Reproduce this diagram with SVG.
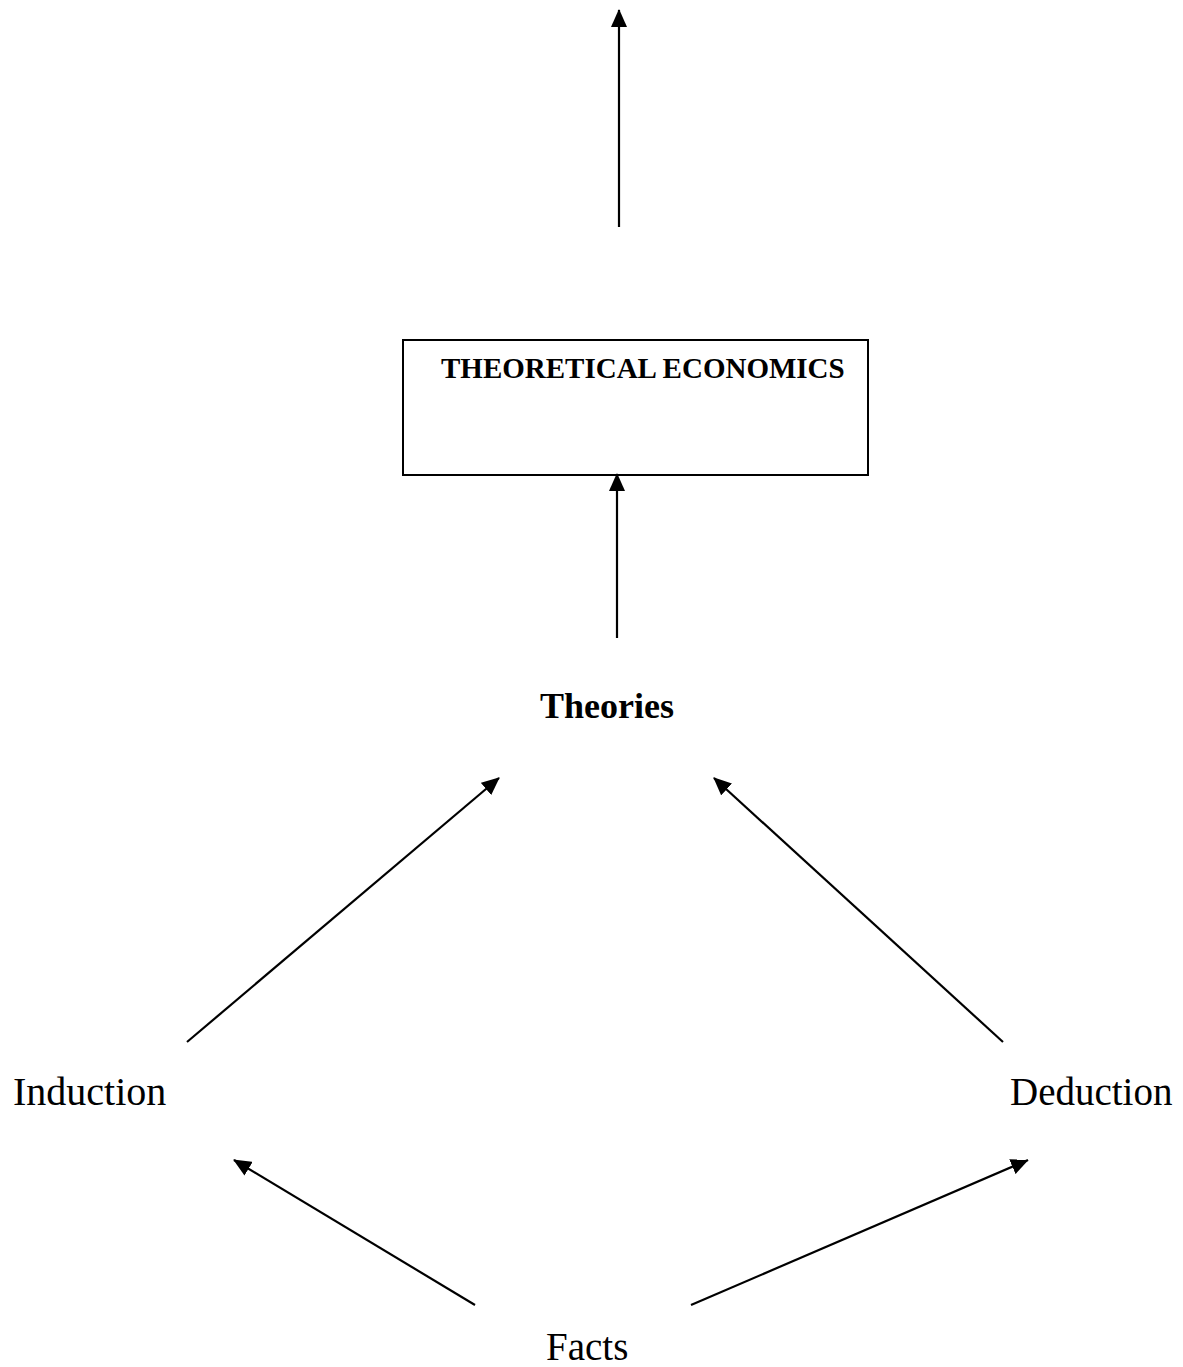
<svg xmlns="http://www.w3.org/2000/svg" width="1183" height="1367" viewBox="0 0 1183 1367">
<style>
.t{font-family:"Liberation Serif","Times New Roman",serif;fill:#000}
.b{font-weight:bold}
.c{stroke:#000;stroke-width:2.2;fill:none;marker-end:url(#ah)}
</style>
<defs>
<marker id="ah" markerUnits="userSpaceOnUse" markerWidth="18" markerHeight="16" viewBox="0 0 18 16" refX="17" refY="8" orient="auto">
<path d="M0,0 L18,8 L0,16 Z" fill="#000"/>
</marker>
</defs>
<rect width="1183" height="1367" fill="#fff"/>
<g id="connectors">
<line class="c" x1="619" y1="227" x2="619" y2="10"/>
<line class="c" x1="617" y1="638" x2="617" y2="474"/>
<line class="c" x1="187" y1="1042" x2="499" y2="778"/>
<line class="c" x1="1003" y1="1042" x2="714" y2="778"/>
<line class="c" x1="475" y1="1305" x2="234" y2="1160"/>
<line class="c" x1="691" y1="1305" x2="1028" y2="1160"/>
</g>
<g id="theoretical-economics">
<rect x="403" y="340" width="465" height="135" fill="none" stroke="#000" stroke-width="2"/>
<text class="t b" x="441" y="378" font-size="29">THEORETICAL ECONOMICS</text>
</g>
<g id="theories"><text class="t b" x="540" y="718" font-size="36">Theories</text></g>
<g id="induction"><text class="t" x="13" y="1105" font-size="40">Induction</text></g>
<g id="deduction"><text class="t" x="1010" y="1105" font-size="39">Deduction</text></g>
<g id="facts"><text class="t" x="546" y="1360" font-size="39">Facts</text></g>
</svg>
